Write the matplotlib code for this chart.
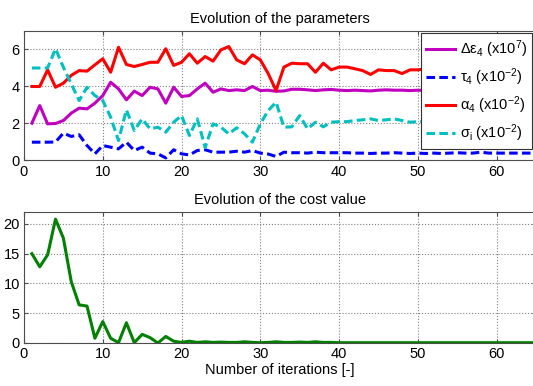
import numpy as np
import matplotlib
matplotlib.use("Agg")
from matplotlib import pyplot as plt

plt.rcParams['font.family'] = ['Liberation Sans', 'DejaVu Sans']
plt.rcParams['mathtext.fontset'] = 'custom'
plt.rcParams['mathtext.rm'] = 'Liberation Sans'
plt.rcParams['mathtext.it'] = 'Liberation Sans'
plt.rcParams['font.size'] = 10.5

# parameter evolution, iterations 1..65
d_eps4 = [2.02, 2.97, 1.98, 2.0, 2.16, 2.56, 2.83, 2.79, 3.1, 3.51,
          4.23, 3.87, 3.28, 3.75, 3.51, 3.96, 3.87, 3.1, 3.96, 3.46,
          3.51, 3.87, 4.18, 3.69, 3.87, 3.78, 3.82, 3.78, 4.0, 3.78,
          3.8, 3.74, 3.76, 3.85, 3.85, 3.82, 3.78, 3.82, 3.84, 3.8,
          3.78, 3.8, 3.78, 3.76, 3.8, 3.82, 3.8, 3.8, 3.78, 3.8,
          3.78, 3.8, 3.79, 3.78, 3.8, 3.78, 3.79, 3.8, 3.78, 3.78,
          3.79, 3.78, 3.8, 3.78, 3.78]
tau4 = [0.99, 0.99, 0.99, 1.0, 1.48, 1.3, 1.39, 0.81, 0.36, 0.81,
        0.72, 0.63, 0.99, 0.54, 0.72, 0.4, 0.36, 0.14, 0.58, 0.36,
        0.3, 0.54, 0.58, 0.45, 0.45, 0.45, 0.5, 0.45, 0.54, 0.4,
        0.35, 0.22, 0.45, 0.42, 0.42, 0.4, 0.45, 0.42, 0.42, 0.42,
        0.42, 0.4, 0.4, 0.38, 0.4, 0.4, 0.42, 0.4, 0.38, 0.4,
        0.38, 0.4, 0.38, 0.4, 0.42, 0.4, 0.4, 0.45, 0.4, 0.4,
        0.4, 0.4, 0.4, 0.4, 0.4]
alpha4 = [4.0, 4.0, 4.9, 3.96, 4.18, 4.6, 4.86, 4.83, 5.17, 5.5,
          4.77, 6.12, 5.19, 5.08, 5.19, 5.31, 5.31, 6.04, 5.14, 5.31,
          5.77, 5.26, 5.62, 5.37, 5.98, 6.16, 5.44, 5.23, 5.71, 5.44,
          4.7, 3.78, 5.05, 5.26, 5.23, 5.23, 4.77, 5.26, 4.9, 5.05,
          5.05, 4.96, 4.86, 4.65, 4.9, 4.86, 4.86, 4.7, 4.9, 4.9,
          4.95, 4.9, 4.88, 4.9, 4.92, 4.9, 4.88, 4.9, 4.9, 4.92,
          4.9, 4.9, 4.9, 4.9, 4.9]
sigma_i = [5.0, 5.0, 5.0, 6.04, 5.04, 4.14, 3.24, 3.96, 3.51, 3.24,
           2.34, 1.08, 2.74, 1.62, 2.25, 1.71, 1.8, 1.53, 2.07, 2.43,
           1.35, 2.25, 0.7, 1.98, 1.8, 1.44, 1.77, 1.44, 0.99, 1.98,
           2.7, 3.15, 1.8, 1.82, 2.43, 1.71, 2.07, 1.82, 2.07, 2.1,
           2.1, 2.16, 2.2, 2.25, 2.16, 2.2, 2.25, 2.16, 2.07, 2.1,
           2.1, 2.12, 2.1, 2.1, 2.12, 2.1, 2.1, 2.12, 2.1, 2.1,
           2.12, 2.1, 2.1, 2.1, 2.1]
cost = [15.0, 12.8, 14.8, 20.8, 17.6, 10.3, 6.4, 6.2, 0.8, 3.6,
        0.8, 0.05, 3.4, 0.06, 1.45, 0.9, 0.0, 1.1, 0.3, 0.1,
        0.3, 0.1, 0.2, 0.1, 0.15, 0.1, 0.1, 0.2, 0.1, 0.05,
        0.1, 0.2, 0.1, 0.1, 0.15, 0.1, 0.2, 0.1, 0.1, 0.05,
        0.05, 0.05, 0.05, 0.05, 0.05, 0.05, 0.05, 0.05, 0.05, 0.05,
        0.05, 0.05, 0.05, 0.05, 0.05, 0.05, 0.05, 0.05, 0.05, 0.05,
        0.05, 0.05, 0.05, 0.05, 0.05]
it = np.arange(1, len(cost) + 1)

labels = [r'$\Delta\varepsilon_4$ (x10$^7$)', r'$\tau_4$ (x10$^{-2}$)',
          r'$\alpha_4$ (x10$^{-2}$)', r'$\sigma_\mathrm{i}$ (x10$^{-2}$)']

fig = plt.figure(figsize=(5.33, 3.86), dpi=100)
W, H = 533.0, 386.0
ax1 = fig.add_axes([24 / W, 1 - 160.5 / H, 512 / W, 129.5 / H])
ax2 = fig.add_axes([24 / W, 1 - 343 / H, 512 / W, 131 / H])

lw = 2.2
dash = (2.8, 1.4)
ax1.plot(it, d_eps4, color='#bf00bf', lw=lw, label=labels[0])
ax1.plot(it, tau4, color='#0000ff', lw=lw, dashes=dash, label=labels[1])
ax1.plot(it, alpha4, color='#ff0000', lw=lw, label=labels[2])
ax1.plot(it, sigma_i, color='#00bfbf', lw=lw, dashes=dash, label=labels[3])
ax2.plot(it, cost, color='#008000', lw=lw)

ax1.set_ylim(0, 7)
ax1.set_yticks([0, 2, 4, 6])
ax2.set_ylim(0, 22)
ax2.set_yticks([0, 5, 10, 15, 20])

for ax in (ax1, ax2):
    ax.set_xlim(0, 65)
    ax.set_xticks(range(0, 61, 10))
    ax.grid(True, color='0.5', linestyle=':', linewidth=0.8)
    ax.tick_params(direction='in', length=3, top=True, right=True, pad=3,
                   labelsize=10.5, color='0.3')
    for s in ax.spines.values():
        s.set_color('0.3')

ax1.set_title('Evolution of the parameters', fontsize=10.5, pad=6)
ax2.set_title('Evolution of the cost value', fontsize=10.5, pad=6)
ax2.set_xlabel('Number of iterations [-]', fontsize=10.5, labelpad=1)

leg = ax1.legend(loc='upper right', bbox_to_anchor=(532 / W, 1 - 33 / H),
                 bbox_transform=fig.transFigure, borderaxespad=0,
                 fancybox=False, framealpha=1, edgecolor='0.2',
                 handlelength=2.0, handletextpad=0.3, labelspacing=0.45,
                 borderpad=0.35, fontsize=10.5)
leg.get_frame().set_linewidth(0.8)

fig.savefig('out.png', dpi=100)
plt.close(fig)
